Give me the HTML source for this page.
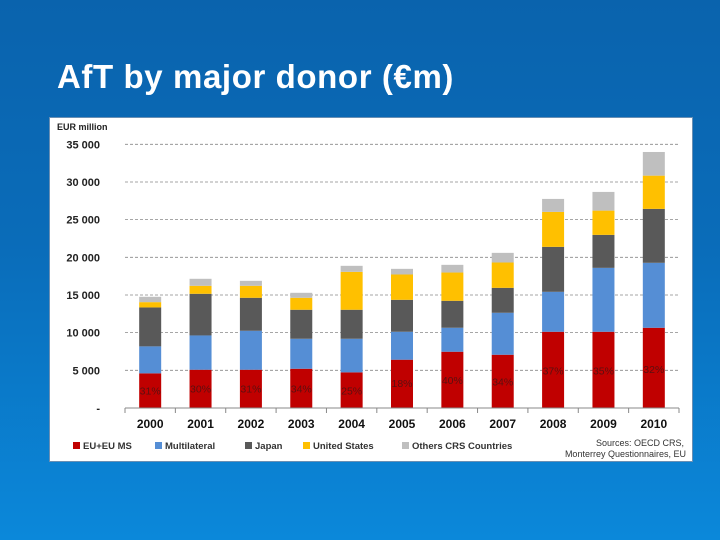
<!DOCTYPE html>
<html><head><meta charset="utf-8"><style>
html,body{margin:0;padding:0;width:720px;height:540px;overflow:hidden}
body{background:linear-gradient(180deg,#0a63ad 0%,#0a6cb9 45%,#0b88da 100%);font-family:"Liberation Sans",sans-serif;position:relative}
#title{position:absolute;left:57px;top:57px;color:#fff;font-size:33px;font-weight:bold;letter-spacing:0.6px;margin:0;line-height:40px}
#box{position:absolute;left:49px;top:117px;width:644px;height:345px;background:#fff;border:1px solid #6a8fb3;box-sizing:border-box}
svg{position:absolute;left:0;top:0}
</style></head><body>
<h1 id="title">AfT by major donor (€m)</h1>
<div id="box"></div>
<svg id="chart" width="720" height="540"></svg>
<script>
const years=["2000","2001","2002","2003","2004","2005","2006","2007","2008","2009","2010"];
const euMs=[4600,5080,5080,5210,4730,6410,7470,7070,10120,10120,10650];
const multilateral=[3580,4550,5170,3980,4460,3710,3180,5570,5300,8480,8620];
const japan=[5170,5530,4380,3850,3850,4240,3580,3310,5970,4380,7160];
const unitedStates=[700,1060,1590,1590,5030,3360,3750,3360,4640,3220,4410];
const others=[710,930,660,660,800,750,1020,1280,1720,2480,3140];
const pctLabels=["31%","30%","31%","34%","25%","18%","40%","34%","37%","35%","32%"];
const pctValues=[2300,2600,2600,2600,2300,3300,3700,3500,5000,5000,5200];
const yTicks=[0,5000,10000,15000,20000,25000,30000,35000];
const yTickLabels=["-","5 000","10 000","15 000","20 000","25 000","30 000","35 000"];
const seriesNames=["EU+EU MS","Multilateral","Japan","United States","Others CRS Countries"];
const seriesColors=["#c00000","#558ed5","#595959","#ffc000","#bfbfbf"];

const NS="http://www.w3.org/2000/svg";
const svg=document.getElementById('chart');
const x0=125,x1=679,y0=408,yTop=144.3,vmax=35000;
const band=(x1-x0)/years.length;
const Y=v=>y0-(v/vmax)*(y0-yTop);
const X=i=>x0+band*(i+0.5);
function mk(t,a){const e=document.createElementNS(NS,t);for(const k in a)e.setAttribute(k,a[k]);svg.appendChild(e);return e;}

let t=mk('text',{x:57,y:130,'font-size':9,'font-weight':'bold',fill:'#222'});t.textContent='EUR million';



yTicks.forEach((v,i)=>{
  if(v>0){const g=mk('line',{x1:x0,x2:x1,y1:Y(v),y2:Y(v),stroke:'#888','stroke-dasharray':'3,2','stroke-width':0.8});
  
  }
  const l=mk('text',{x:100,y:Y(v)+4,'text-anchor':'end','font-size':11,'font-weight':'bold',fill:'#222'});
  l.textContent=yTickLabels[i];
  
  
});

const series=[euMs,multilateral,japan,unitedStates,others];
const bw=22;
years.forEach((yr,i)=>{
  let cum=0;
  series.forEach((s,k)=>{
    const r=mk('rect',{x:X(i)-bw/2,y:Y(cum+s[i]),width:bw,height:Y(cum)-Y(cum+s[i]),fill:seriesColors[k]});
    
    
    cum+=s[i];
  });
  const p=mk('text',{x:X(i),y:Y(pctValues[i])+4,'text-anchor':'middle','font-size':10.5,fill:'#5a1010'});
  p.textContent=pctLabels[i];
  
  
  const xl=mk('text',{x:X(i),y:428,'text-anchor':'middle','font-size':12,'font-weight':'bold',fill:'#111'});
  xl.textContent=yr;
  
  
  const tk=mk('line',{x1:x0+band*i,x2:x0+band*i,y1:y0,y2:y0+5,stroke:'#888'});
  
  
});
const ax=mk('line',{x1:x0,x2:x1,y1:y0,y2:y0,stroke:'#888'});


mk('line',{x1:x1,x2:x1,y1:y0,y2:y0+5,stroke:'#888'});

const lx=[73,155,245,303,402];
seriesNames.forEach((n,k)=>{
  const s=mk('rect',{x:lx[k],y:442,width:7,height:7,fill:seriesColors[k]});
  
  
  const lt=mk('text',{x:lx[k]+10,y:449,'font-size':9.5,'font-weight':'bold',fill:'#333'});
  lt.textContent=n;
  
  
});
const s1=mk('text',{x:684,y:446,'text-anchor':'end','font-size':9,fill:'#333'});s1.textContent='Sources: OECD CRS,';


const s2=mk('text',{x:686,y:457,'text-anchor':'end','font-size':9,fill:'#333'});s2.textContent='Monterrey Questionnaires, EU';


</script>
</body></html>
